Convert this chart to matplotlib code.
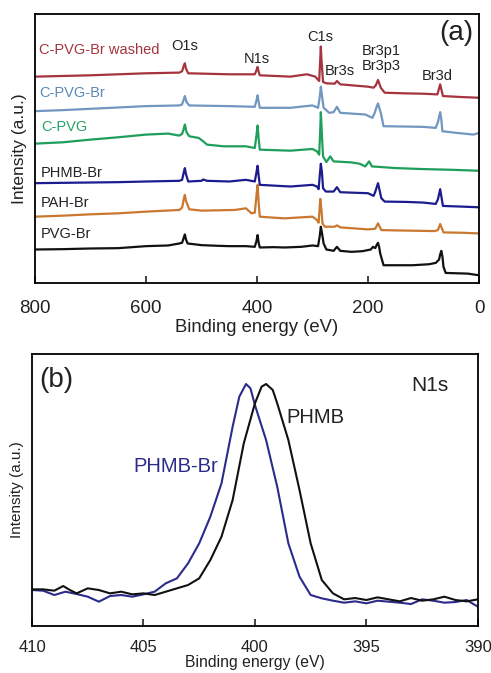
import matplotlib
matplotlib.use('Agg')
import matplotlib.pyplot as plt

plt.rcParams['font.family'] = ['Liberation Sans', 'DejaVu Sans']

# ---- panel (a): XPS survey, binding energy (eV) vs intensity (a.u.)
pvg_br_e = [800, 750, 700, 650, 600, 560, 540, 535, 532, 530, 528, 525, 500, 470, 450, 420, 404, 401, 399, 397, 395, 370, 350, 320, 300, 290, 287, 285, 283, 280, 275, 262, 256, 250, 230, 210, 195, 191, 187, 184, 182, 180, 178, 172, 150, 120, 90, 78, 72, 70, 68, 66, 64, 60, 40, 20, 0]
pvg_br_i = [100, 101, 103, 104, 110, 112, 118, 120, 135, 145, 130, 118, 113, 111, 110, 110, 108, 125, 143, 120, 106, 107, 106, 108, 112, 110, 140, 168, 150, 118, 100, 96, 108, 96, 93, 95, 100, 108, 104, 115, 120, 108, 88, 53, 53, 53, 56, 60, 70, 85, 96, 80, 48, 30, 29, 28, 23]

pah_br_e = [800, 750, 700, 650, 600, 540, 535, 532, 530, 528, 522, 500, 440, 420, 410, 404, 401, 399, 397, 395, 370, 350, 300, 292, 289, 286, 284, 282, 278, 260, 256, 250, 200, 187, 182, 176, 150, 80, 74, 70, 64, 30, 0]
pah_br_i = [198, 201, 205, 208, 213, 218, 225, 250, 263, 245, 220, 216, 218, 223, 208, 210, 260, 293, 240, 198, 195, 193, 198, 188, 180, 251, 220, 178, 168, 168, 172, 166, 160, 162, 178, 158, 157, 155, 158, 176, 151, 150, 148]

phmb_br_e = [800, 750, 700, 650, 600, 540, 535, 532, 530, 528, 524, 500, 497, 490, 450, 420, 404, 401, 399, 397, 395, 340, 300, 292, 289, 287, 285, 283, 281, 276, 262, 256, 250, 200, 190, 187, 182, 176, 170, 130, 100, 78, 74, 70, 65, 30, 0]
phmb_br_i = [298, 299, 300, 301, 303, 305, 308, 330, 343, 325, 303, 305, 309, 305, 303, 308, 303, 330, 350, 320, 293, 288, 293, 288, 280, 320, 356, 330, 283, 273, 273, 286, 271, 268, 260, 272, 298, 253, 243, 242, 240, 236, 250, 280, 230, 228, 226]

cpvg_e = [800, 750, 700, 650, 600, 560, 540, 535, 532, 530, 527, 522, 505, 497, 490, 460, 420, 404, 401, 399, 397, 395, 340, 300, 292, 288, 286, 285, 283, 281, 275, 268, 262, 230, 215, 205, 198, 193, 150, 100, 50, 0]
cpvg_i = [416, 420, 428, 435, 443, 446, 440, 445, 460, 473, 450, 438, 433, 423, 413, 408, 408, 403, 440, 470, 430, 398, 395, 400, 393, 383, 460, 510, 440, 378, 361, 378, 363, 360, 356, 348, 363, 348, 343, 340, 338, 335]

cpvg_br_e = [800, 750, 700, 650, 600, 540, 535, 532, 530, 527, 522, 450, 404, 401, 399, 397, 395, 340, 300, 290, 287, 285, 283, 280, 270, 262, 256, 250, 205, 192, 188, 184, 182, 180, 177, 172, 130, 100, 78, 74, 72, 70, 68, 66, 40, 10, 0]
cpvg_br_i = [513, 516, 520, 524, 528, 530, 533, 548, 558, 540, 530, 528, 526, 545, 560, 540, 523, 523, 530, 523, 555, 586, 560, 523, 508, 510, 526, 508, 503, 493, 508, 528, 536, 525, 508, 468, 467, 466, 463, 480, 495, 510, 490, 453, 448, 443, 448]

washed_e = [800, 750, 700, 650, 600, 540, 535, 532, 530, 528, 524, 450, 404, 401, 399, 397, 395, 340, 310, 295, 288, 286, 285, 284, 281, 275, 260, 256, 250, 200, 190, 186, 182, 177, 170, 130, 100, 75, 70, 65, 30, 0]
washed_i = [616, 618, 620, 623, 626, 628, 632, 648, 656, 640, 626, 623, 623, 635, 645, 630, 620, 616, 623, 616, 603, 670, 706, 670, 600, 596, 595, 603, 593, 586, 583, 590, 606, 583, 568, 566, 565, 563, 593, 558, 555, 553]

survey_names = ['PVG-Br', 'PAH-Br', 'PHMB-Br', 'C-PVG', 'C-PVG-Br', 'C-PVG-Br washed']
survey_colors = ['#111111', '#c9782f', '#1c1c8e', '#1f9e5c', '#7196c0', '#a5343f']
label_colors = ['#222222', '#222222', '#222222', '#2aa266', '#5a8ab5', '#a5343f']
label_e = [789, 789, 789, 789, 793, 793]
label_i = [146, 239, 329, 467, 566, 695]

peak_names = ['O1s', 'N1s', 'C1s', 'Br3s', 'Br3p1\nBr3p3', 'Br3d']
peak_e = [530, 400, 286.5, 250.5, 176.6, 75.7]
peak_i = [707, 668, 734, 632, 670, 617]

# ---- panel (b): N1s high resolution
phmb_e = [410, 409.5, 409, 408.6, 408.3, 408, 407.5, 407, 406.5, 406, 405.5, 405, 404.5, 404, 403.5, 403, 402.5, 402, 401.5, 401, 400.5, 400, 399.7, 399.5, 399.2, 399, 398.5, 398, 397.5, 397, 396.5, 396, 395.5, 395, 394.5, 394, 393.5, 393, 392.5, 392, 391.5, 391, 390.5, 390]
phmb_i = [110, 110, 106, 120, 108, 98, 113, 108, 98, 103, 95, 98, 93, 103, 113, 123, 143, 198, 268, 378, 548, 668, 718, 726, 708, 668, 558, 408, 248, 138, 98, 80, 84, 78, 86, 80, 74, 84, 76, 80, 88, 78, 74, 80]

phmbbr_e = [410, 409.5, 409, 408.5, 408, 407.5, 407, 406.5, 406, 405.5, 405, 404.5, 404.2, 404, 403.5, 403, 402.5, 402, 401.5, 401, 400.7, 400.4, 400.2, 400, 399.5, 399, 398.5, 398, 397.5, 397, 396.5, 396, 395.5, 395, 394.5, 394, 393.5, 393, 392.5, 392, 391.5, 391, 390.5, 390]
phmbbr_i = [108, 106, 93, 103, 96, 88, 73, 90, 93, 88, 95, 103, 118, 128, 143, 188, 248, 328, 428, 598, 688, 726, 713, 663, 558, 418, 248, 148, 93, 83, 76, 70, 74, 68, 76, 73, 70, 66, 80, 76, 70, 72, 78, 58]

fig = plt.figure(figsize=(4.91, 6.73), dpi=100)

# panel (a)
ax1 = fig.add_axes([0.0713, 0.5795, 0.9043, 0.3997])
series = [(pvg_br_e, pvg_br_i), (pah_br_e, pah_br_i), (phmb_br_e, phmb_br_i),
          (cpvg_e, cpvg_i), (cpvg_br_e, cpvg_br_i), (washed_e, washed_i)]
for (e, i), c in zip(series, survey_colors):
    ax1.plot(e, i, color=c, lw=1.6)
for name, c, x, y in zip(survey_names, label_colors, label_e, label_i):
    ax1.text(x, y, name, color=c, fontsize=10.5, ha='left', va='center')
for name, x, y in zip(peak_names, peak_e, peak_i):
    ax1.text(x, y, name, color='#222222', fontsize=10.5, ha='center', va='center',
             linespacing=1.15)
ax1.text(41, 745, '(a)', fontsize=20, ha='center', va='center', color='#222222')
ax1.set_xlim(800, 0)
ax1.set_ylim(0, 803)
ax1.set_xticks([800, 600, 400, 200, 0])
ax1.set_yticks([])
ax1.tick_params(axis='x', direction='in', length=5, width=1.2, labelsize=13.5, pad=12,
                colors='#222222')
ax1.set_xlabel('Binding energy (eV)', fontsize=13.3, labelpad=2, color='#222222')
ax1.set_ylabel('Intensity (a.u.)', fontsize=12.5, labelpad=6, color='#222222')
for s in ax1.spines.values():
    s.set_linewidth(1.3)

# panel (b)
ax2 = fig.add_axes([0.0652, 0.0698, 0.908, 0.4042])
ax2.plot(phmbbr_e, phmbbr_i, color='#2b2b8c', lw=1.5)
ax2.plot(phmb_e, phmb_i, color='#111111', lw=1.5)
ax2.text(408.9, 738, '(b)', fontsize=20, ha='center', va='center', color='#222222')
ax2.text(392.15, 723, 'N1s', fontsize=15, ha='center', va='center', color='#222222')
ax2.text(398.57, 626, 'PHMB', fontsize=14.5, ha='left', va='center', color='#222222')
ax2.text(405.47, 478, 'PHMB-Br', fontsize=14.5, ha='left', va='center', color='#2b2b8c')
ax2.set_xlim(410, 390)
ax2.set_ylim(0, 816)
ax2.set_xticks([410, 405, 400, 395, 390])
ax2.set_yticks([])
ax2.tick_params(axis='x', direction='in', length=5, width=1.2, labelsize=12, pad=10,
                colors='#222222')
ax2.set_xlabel('Binding energy (eV)', fontsize=11.3, labelpad=0, color='#222222')
ax2.set_ylabel('Intensity (a.u.)', fontsize=11, labelpad=6, color='#222222')
for s in ax2.spines.values():
    s.set_linewidth(1.3)

fig.savefig('out.png', dpi=100)
